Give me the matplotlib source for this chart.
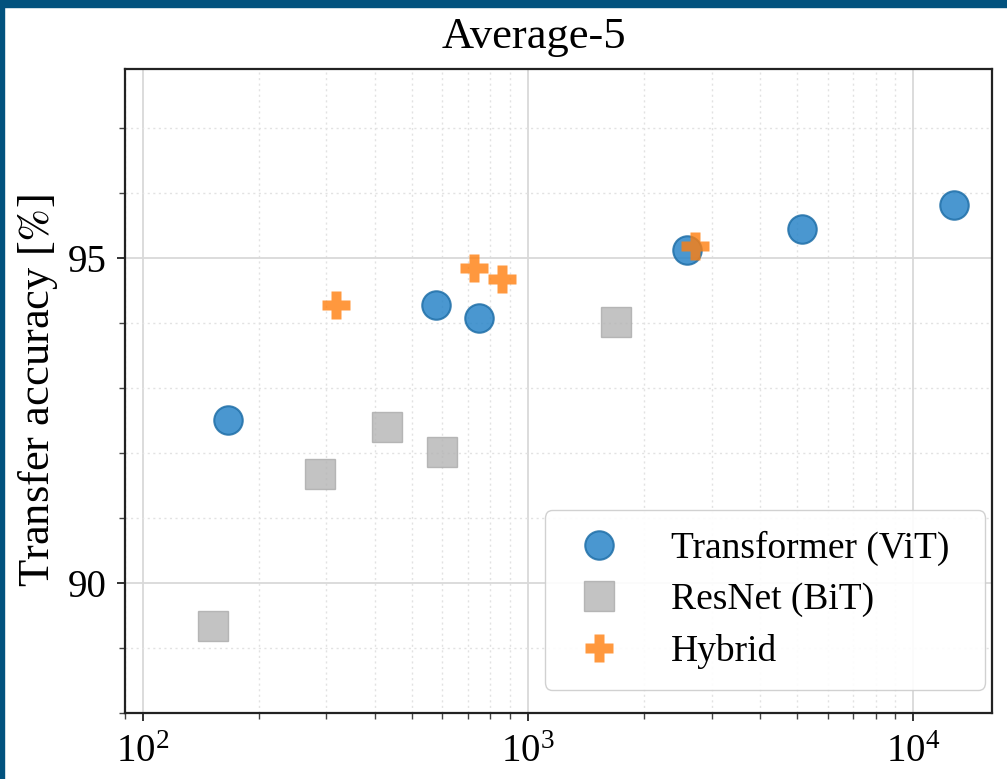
import matplotlib
matplotlib.use("Agg")
import matplotlib.pyplot as plt
from matplotlib.patches import Rectangle
from matplotlib.ticker import LogLocator, NullFormatter, MultipleLocator

# ---- data ----
vit_x = [167, 577, 745, 2582, 5164, 12770]
vit_y = [92.50, 94.27, 94.07, 95.12, 95.44, 95.82]

bit_x = [152, 288, 430, 597, 1690]
bit_y = [89.33, 91.67, 92.40, 92.01, 94.01]

hyb_x = [318, 723, 857, 2718]
hyb_y = [94.27, 94.85, 94.68, 95.18]

labels = ["Transformer (ViT)", "ResNet (BiT)", "Hybrid"]
title = "Average-5"
ylabel = r"Transfer accuracy [$\%$]"

plt.rcParams["font.family"] = ["Liberation Serif", "DejaVu Serif"]
plt.rcParams["mathtext.fontset"] = "stix"

fig = plt.figure(figsize=(10.07, 7.79), dpi=100)
ax = fig.add_axes([0.1241, 0.0851, 0.8607, 0.8259])

ax.set_xscale("log")
ax.set_xlim(90, 16000)
ax.set_ylim(88.0, 97.9)

ax.plot(vit_x, vit_y, "o", ms=20.5, color="#2a85c8", alpha=0.85, mec="#1f6fa8",
        mew=1.5, ls="none", label=labels[0], zorder=3)
ax.plot(bit_x, bit_y, "s", ms=21, color="#b4b4b4", alpha=0.8, mec="#aaaaaa",
        mew=1.0, ls="none", label=labels[1], zorder=3)
ax.plot(hyb_x, hyb_y, "P", ms=20, color="#ff7f0e", alpha=0.8, mec="none",
        ls="none", label=labels[2], zorder=4)

ax.yaxis.set_major_locator(MultipleLocator(5))
ax.yaxis.set_minor_locator(MultipleLocator(1))
ax.xaxis.set_major_locator(LogLocator(base=10))
ax.xaxis.set_minor_locator(LogLocator(base=10, subs=range(2, 10)))
ax.xaxis.set_minor_formatter(NullFormatter())

ax.grid(True, which="major", color="#d9d9d9", lw=1.3, ls="-", zorder=0)
ax.grid(True, which="minor", color="#e2e2e2", lw=1.0, ls=(0, (1.5, 2.5)), zorder=0)
ax.set_axisbelow(True)

for s in ax.spines.values():
    s.set_color("#222222")
    s.set_linewidth(1.6)

ax.tick_params(axis="both", which="major", direction="out", length=6, width=1.3,
               labelsize=28, color="#222222")
ax.tick_params(axis="both", which="minor", direction="out", length=4, width=1.0,
               color="#444444")
ax.tick_params(axis="y", which="major", pad=7)
ax.tick_params(axis="x", which="major", pad=9)

ax.set_title(title, fontsize=32, pad=15, x=0.4713)
ax.set_ylabel(ylabel, fontsize=32, labelpad=6)

leg = ax.legend(loc="lower left", bbox_to_anchor=(0.4846, 0.0353, 0.5077, 0.0),
                mode="expand", fontsize=27,
                frameon=True, fancybox=True, edgecolor="#cccccc", framealpha=0.9,
                handletextpad=1.0, borderpad=0.55, labelspacing=0.45,
                handlelength=1.8, borderaxespad=0.0)

# dark blue frame strips (top and left) of the screenshot
fig.patches.append(Rectangle((0, 1 - 7 / 779), 1, 7 / 779, transform=fig.transFigure,
                             color="#02527e", zorder=10))
fig.patches.append(Rectangle((0, 0), 4 / 1007, 1, transform=fig.transFigure,
                             color="#02527e", zorder=10))

fig.savefig("out.png", dpi=100)
